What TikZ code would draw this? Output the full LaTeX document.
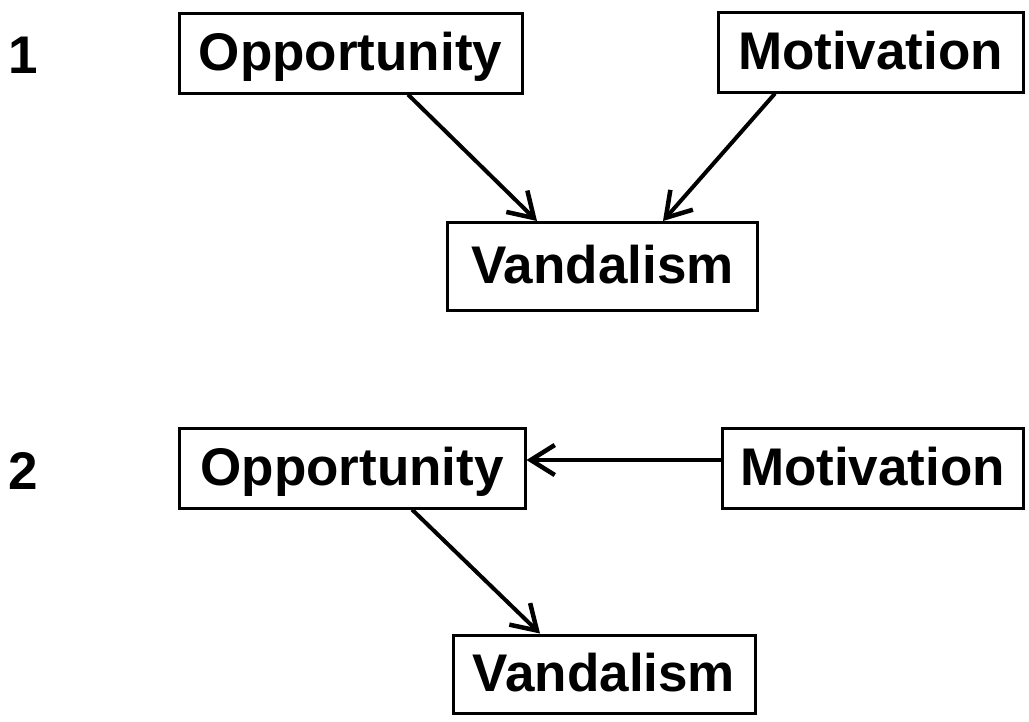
\documentclass[tikz,border=0pt]{standalone}
\usepackage{fontspec}
\setmainfont{Liberation Sans}
\usetikzlibrary{arrows.meta,calc}
\begin{document}
\begin{tikzpicture}[x=1pt,y=-1pt,
  box/.style={draw,line width=3pt,inner sep=0pt,text height=38pt,text depth=4pt,font=\fontsize{53}{60}\selectfont\bfseries},
  lbl/.style={inner sep=0pt,text height=38pt,text depth=0pt,font=\fontsize{53}{60}\selectfont\bfseries},
  arr/.style={line width=4pt,-{Straight Barb[length=24pt,width=30pt,line width=4.5pt]}}]
\useasboundingbox (0,0) rectangle (1029,721);
\node[lbl] (n1) at (23,54) {1};
\node[lbl] (n2) at (23,470) {2};
\node[box,minimum width=343pt,minimum height=80pt] (o1) at (350.5,53) {Opportunity};
\node[box,minimum width=305pt,minimum height=80pt] (m1) at (870.5,52) {Motivation};
\node[box,minimum width=310pt,minimum height=88pt] (v1) at (602.5,266.5) {Vandalism};
\node[box,minimum width=346pt,minimum height=80pt] (o2) at (352,468) {Opportunity};
\node[box,minimum width=301pt,minimum height=80pt] (m2) at (872.5,468) {Motivation};
\node[box,minimum width=302pt,minimum height=78pt] (v2) at (604,674) {Vandalism};
\draw[arr] ([xshift=57.5pt]o1.south) -- ([xshift=-65.5pt]v1.north);
\draw[arr] ([xshift=-95.5pt]m1.south) -- ([xshift=60.5pt]v1.north);
\draw[arr] ([yshift=8pt]m2.west) -- ([yshift=8pt]o2.east);
\draw[arr] ([xshift=60pt]o2.south) -- ([xshift=-64pt]v2.north);
\end{tikzpicture}
\end{document}
